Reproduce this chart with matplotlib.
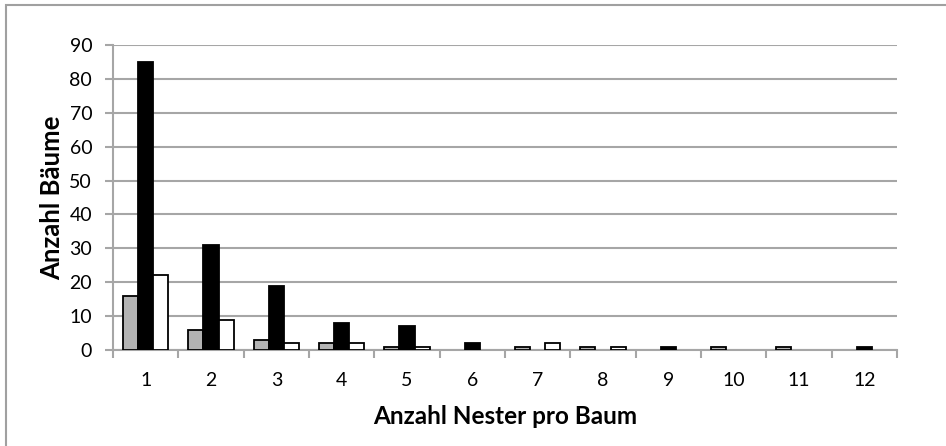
import numpy as np
import matplotlib
matplotlib.use('Agg')
from matplotlib import pyplot as plt
from matplotlib.patches import Rectangle

# Data
kategorien = [1, 2, 3, 4, 5, 6, 7, 8, 9, 10, 11, 12]
serie_grau = [16, 6, 3, 2, 1, 0, 1, 1, 0, 1, 1, 0]
serie_schwarz = [85, 31, 19, 8, 7, 2, 0, 0, 1, 0, 0, 1]
serie_weiss = [22, 9, 2, 2, 1, 0, 2, 1, 0, 0, 0, 0]
y_ticks = [0, 10, 20, 30, 40, 50, 60, 70, 80, 90]

plt.rcParams['font.family'] = ['Lato', 'DejaVu Sans']

fig = plt.figure(figsize=(9.46, 4.46), dpi=100)
ax = fig.add_axes([113 / 946, 1 - 350 / 446, (897 - 113) / 946, (350 - 45) / 446])

x = np.arange(len(kategorien)) + 1
w = 0.23
grid_col = '#a6a6a6'


def edge_widths(values):
    # no outline for empty bars, else they show up as lines on the axis
    return [1.3 if v > 0 else 0 for v in values]


ax.bar(x - w, serie_grau, w, color='#b3b3b3', edgecolor='black',
       linewidth=edge_widths(serie_grau), zorder=3)
ax.bar(x, serie_schwarz, w, color='black', edgecolor='black',
       linewidth=edge_widths(serie_schwarz), zorder=3)
ax.bar(x + w, serie_weiss, w, color='white', edgecolor='black',
       linewidth=edge_widths(serie_weiss), zorder=3)

ax.set_xlim(0.5, 12.5)
ax.set_ylim(0, 90)
ax.set_yticks(y_ticks)
ax.yaxis.grid(True, color=grid_col, linewidth=1.5, zorder=0)

ax.set_xticks(x)
ax.set_xticklabels([str(k) for k in kategorien])
ax.set_xticks(np.arange(0.5, 13, 1), minor=True)
ax.tick_params(axis='x', which='major', length=0, pad=16, labelsize=14)
ax.tick_params(axis='x', which='minor', length=6, width=1.5, color=grid_col)
ax.tick_params(axis='y', length=6, width=1.5, color=grid_col, pad=9, labelsize=14)

for side in ['top', 'right']:
    ax.spines[side].set_visible(False)
for side in ['left', 'bottom']:
    ax.spines[side].set_color(grid_col)
    ax.spines[side].set_linewidth(1.5)

ax.set_xlabel('Anzahl Nester pro Baum', fontsize=17.5, fontweight='bold', va='center')
ax.xaxis.set_label_coords(0.5, (350 - 416) / 305)
ax.set_ylabel('Anzahl Bäume', fontsize=18.5, fontweight='bold', va='center')
ax.yaxis.set_label_coords((52 - 113) / 784, 0.5)

# outer chart frame, cut off at right and bottom like the reference
fig.patches.append(Rectangle((6 / 946, -0.05), 1.1, 1 - 5 / 446 + 0.05, transform=fig.transFigure,
                             fill=False, edgecolor='#a0a0a0', linewidth=1.5))

fig.savefig('out.png', dpi=100)
